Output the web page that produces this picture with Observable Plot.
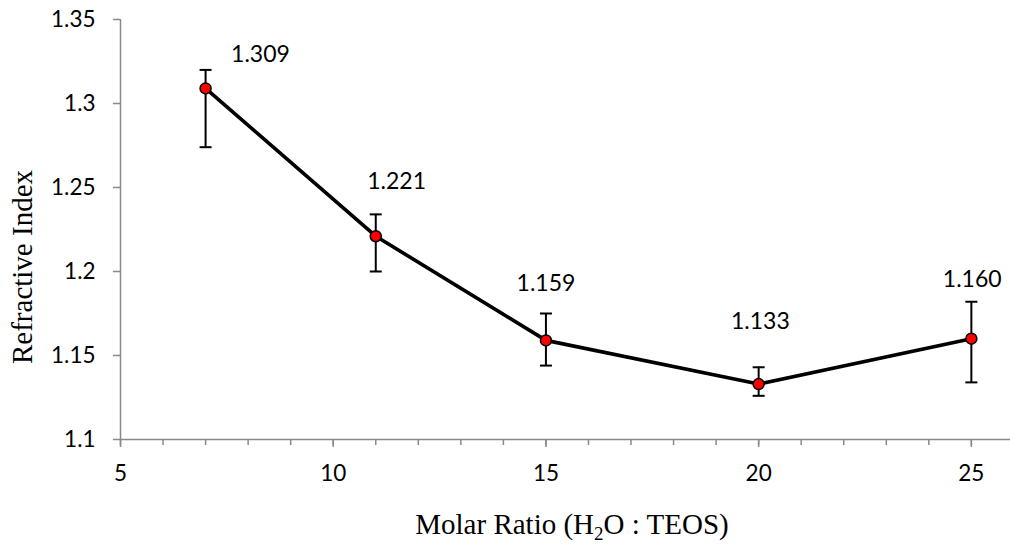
<!DOCTYPE html>
<html>
<head>
<meta charset="utf-8">
<script src="https://cdn.jsdelivr.net/npm/d3@7"></script>
<script src="https://cdn.jsdelivr.net/npm/@observablehq/plot@0.6"></script>
<style>
  html, body { margin: 0; padding: 0; background: #fff; }
  #chart { width: 1010px; height: 554px; }
</style>
</head>
<body>
<div id="chart"></div>
<script>
// ---- data ----
const ratios = [7, 11, 15, 20, 25];
const refractiveIndex = [1.309, 1.221, 1.159, 1.133, 1.160];
const errUpper = [1.320, 1.234, 1.175, 1.143, 1.182];
const errLower = [1.274, 1.200, 1.144, 1.126, 1.134];
const valueLabels = ["1.309", "1.221", "1.159", "1.133", "1.160"];
const labelX = [8.29, 11.49, 15.0, 20.04, 25.02];
const labelY = [1.3289, 1.2533, 1.1929, 1.1702, 1.1954];

const xTicks = [5, 10, 15, 20, 25];
const xTickLabels = ["5", "10", "15", "20", "25"];
const xMinorTicks = d3.range(5, 26, 1);
const yTicks = [1.1, 1.15, 1.2, 1.25, 1.3, 1.35];
const yTickLabels = ["1.1", "1.15", "1.2", "1.25", "1.3", "1.35"];

const xTitle = ["Molar Ratio (H", "2", "O : TEOS)"];
const yTitle = "Refractive Index";

// ---- table built from arrays ----
const points = ratios.map((x, i) => ({
  x, y: refractiveIndex[i], hi: errUpper[i], lo: errLower[i]
}));
const labels = valueLabels.map((t, i) => ({ t, x: labelX[i], y: labelY[i] }));

const capSymbol = {
  draw(context, size) {
    const r = Math.sqrt(size / Math.PI);
    context.moveTo(-r, 0);
    context.lineTo(r, 0);
  }
};

const axisGray = "#898989";
const sansFont = "Lato, 'Open Sans', sans-serif";
const serifFont = "'Liberation Serif', 'Times New Roman', serif";

const chart = Plot.plot({
  width: 1010,
  height: 554,
  marginLeft: 120,
  marginRight: 0,
  marginTop: 19,
  marginBottom: 115,
  style: { background: "#fff", color: "#000", fontFamily: sansFont, fontSize: "22px" },
  x: { domain: [5, 25.92], axis: null },
  y: { domain: [1.1, 1.35], axis: null },
  marks: [
    // axis lines
    Plot.ruleY([1.1], { stroke: axisGray, strokeWidth: 1.5 }),
    Plot.ruleX([5], { y1: 1.1, y2: 1.35, stroke: axisGray, strokeWidth: 1.5 }),
    // x minor ticks
    Plot.axisX({ ticks: xMinorTicks, tickSize: 6, tickFormat: () => "", stroke: axisGray, strokeWidth: 1.5, label: null }),
    // x major ticks + labels
    Plot.axisX({
      ticks: xTicks, tickSize: 8, tickPadding: 18,
      tickFormat: (d) => xTickLabels[xTicks.indexOf(d)],
      stroke: axisGray, fill: "#000", strokeWidth: 1.5, fontSize: 22.5, label: null
    }),
    // y ticks + labels
    Plot.axisY({
      ticks: yTicks, tickSize: 7, tickPadding: 18,
      tickFormat: (d) => yTickLabels[yTicks.findIndex(v => Math.abs(v - d) < 1e-9)],
      stroke: axisGray, fill: "#000", strokeWidth: 1.5, fontSize: 22.5, label: null
    }),
    // error bars
    Plot.ruleX(points, { x: "x", y1: "lo", y2: "hi", stroke: "#000", strokeWidth: 2 }),
    Plot.dot(points, { x: "x", y: "hi", symbol: capSymbol, r: 6, stroke: "#000", strokeWidth: 2, fill: "none" }),
    Plot.dot(points, { x: "x", y: "lo", symbol: capSymbol, r: 6, stroke: "#000", strokeWidth: 2, fill: "none" }),
    // line
    Plot.line(points, { x: "x", y: "y", stroke: "#000", strokeWidth: 3.6 }),
    // points
    Plot.dot(points, { x: "x", y: "y", r: 5.5, fill: "#ff0000", stroke: "#000", strokeWidth: 1.5 }),
    // value labels
    Plot.text(labels, { x: "x", y: "y", text: "t", fontSize: 23, fill: "#000", fontFamily: sansFont })
  ]
});

const svg = d3.select(chart);

// y title
svg.append("text")
  .attr("transform", "translate(32,267) rotate(-90)")
  .attr("text-anchor", "middle")
  .attr("font-family", serifFont)
  .attr("font-size", 29)
  .attr("fill", "#000")
  .text(yTitle);

// x title with subscript
const t = svg.append("text")
  .attr("x", 572)
  .attr("y", 534)
  .attr("text-anchor", "middle")
  .attr("font-family", serifFont)
  .attr("font-size", 29)
  .attr("fill", "#000");
t.append("tspan").text(xTitle[0]);
t.append("tspan").attr("font-size", 19).attr("dy", 6).text(xTitle[1]);
t.append("tspan").attr("dy", -6).text(xTitle[2]);

document.getElementById("chart").appendChild(chart);
</script>
</body>
</html>
